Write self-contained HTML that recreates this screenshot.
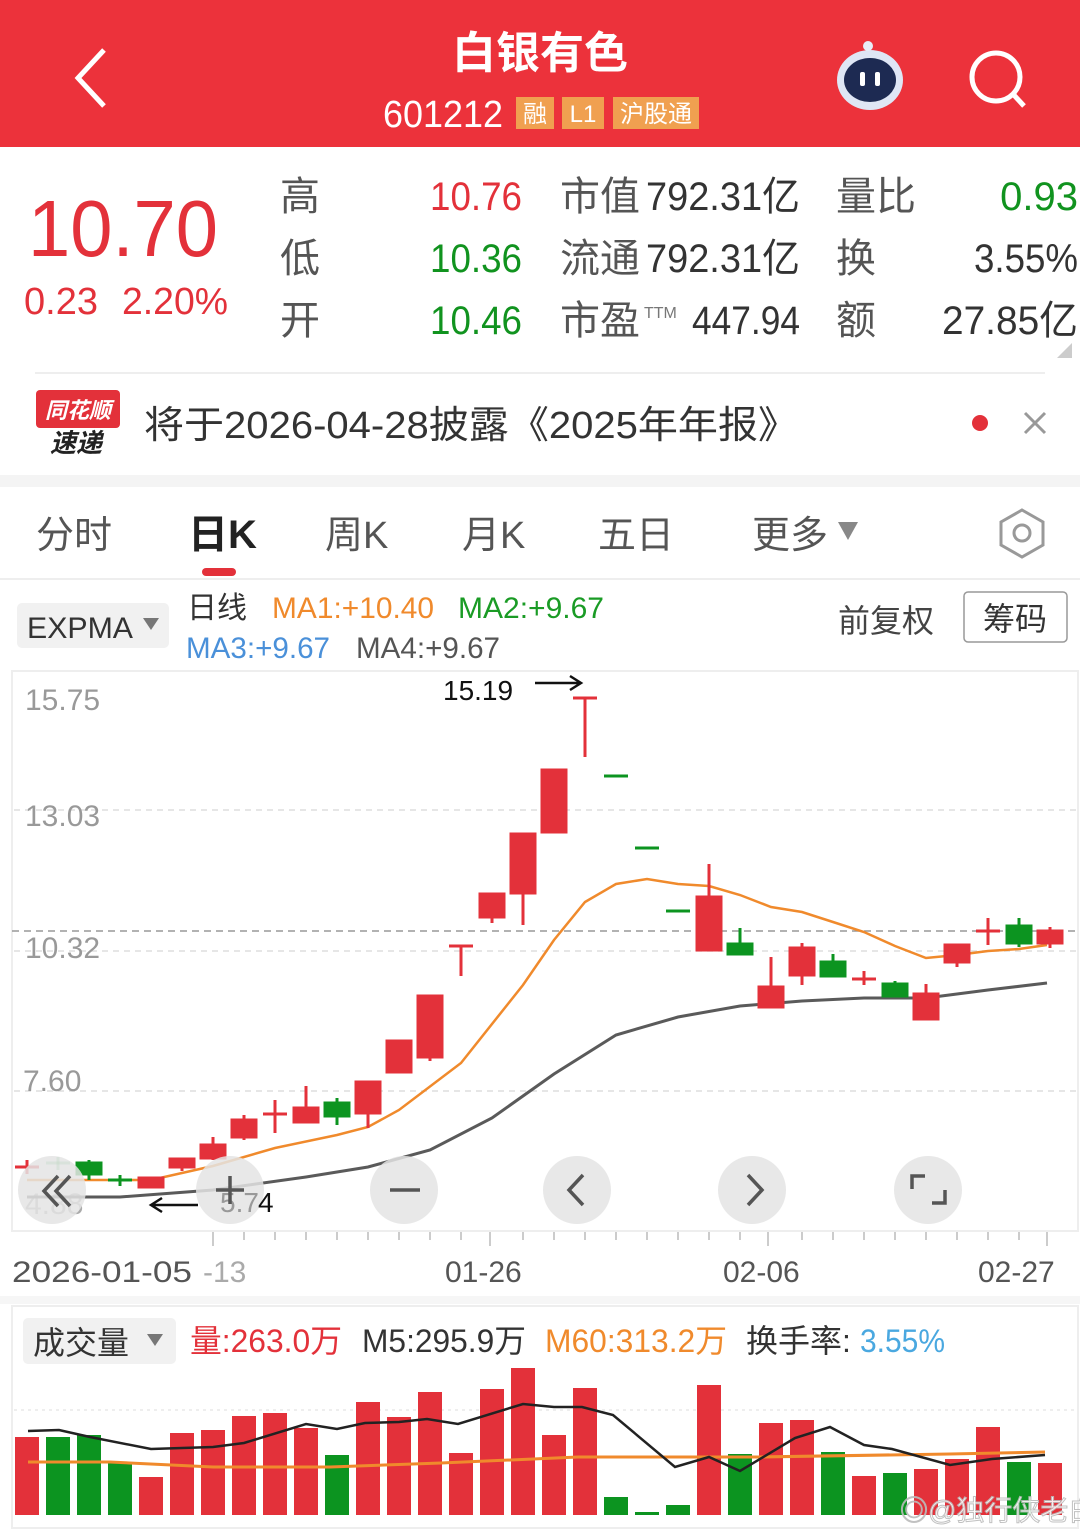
<!DOCTYPE html>
<html><head><meta charset="utf-8"><style>
html,body{margin:0;padding:0;background:#fff}
svg{display:block}
text{font-family:"Liberation Sans","Noto Sans CJK SC",sans-serif}
</style></head><body>
<svg width="1080" height="1536" viewBox="0 0 1080 1536" xmlns="http://www.w3.org/2000/svg">
<!-- header -->
<rect x="0" y="0" width="1080" height="147" fill="#ec323b"/>
<polyline points="104,50 78,78 104,106" fill="none" stroke="#fff" stroke-width="5"/>
<text x="540" y="68" font-size="44" fill="#fff" text-anchor="middle" font-weight="bold">白银有色</text>
<text x="383" y="127" font-size="38" fill="#fff" textLength="120" lengthAdjust="spacingAndGlyphs">601212</text>
<rect x="516" y="97" width="38" height="32" fill="#f0a050"/><text x="535" y="122" font-size="24" fill="#fff" text-anchor="middle">融</text>
<rect x="562" y="97" width="42" height="32" fill="#f0a050"/><text x="583" y="122" font-size="24" fill="#fff" text-anchor="middle">L1</text>
<rect x="613" y="97" width="86" height="32" fill="#f0a050"/><text x="656" y="122" font-size="24" fill="#fff" text-anchor="middle">沪股通</text>
<ellipse cx="870" cy="80" rx="33" ry="30" fill="#dfe6f5"/><ellipse cx="870" cy="80" rx="26" ry="22" fill="#1d2a52"/>
<rect x="860" y="72" width="5" height="14" rx="2" fill="#fff"/><rect x="875" y="72" width="5" height="14" rx="2" fill="#fff"/>
<circle cx="868" cy="46" r="5" fill="#e8eef8"/>
<circle cx="996" cy="77" r="24" fill="none" stroke="#fff" stroke-width="5"/><line x1="1013" y1="94" x2="1024" y2="106" stroke="#fff" stroke-width="5"/>
<!-- quote -->
<text x="28" y="256" font-size="80" fill="#e3313a" textLength="190" lengthAdjust="spacingAndGlyphs">10.70</text>
<text x="24" y="314" font-size="38" fill="#e3313a" textLength="74" lengthAdjust="spacingAndGlyphs">0.23</text>
<text x="122" y="314" font-size="38" fill="#e3313a" textLength="106" lengthAdjust="spacingAndGlyphs">2.20%</text>
<g font-size="40" fill="#555"><text x="280" y="210">高</text><text x="280" y="272">低</text><text x="280" y="334">开</text>
<text x="560" y="210">市值</text><text x="560" y="272">流通</text><text x="560" y="334">市盈</text>
<text x="836" y="210">量比</text><text x="836" y="272">换</text><text x="836" y="334">额</text></g>
<text x="644" y="318" font-size="16" fill="#777">TTM</text>
<g font-size="40"><text x="430" y="210" fill="#e3313a" textLength="92" lengthAdjust="spacingAndGlyphs">10.76</text>
<text x="430" y="272" fill="#11931f" textLength="92" lengthAdjust="spacingAndGlyphs">10.36</text>
<text x="430" y="334" fill="#11931f" textLength="92" lengthAdjust="spacingAndGlyphs">10.46</text>
<text x="646" y="210" fill="#333" textLength="154" lengthAdjust="spacingAndGlyphs">792.31亿</text>
<text x="646" y="272" fill="#333" textLength="154" lengthAdjust="spacingAndGlyphs">792.31亿</text>
<text x="692" y="334" fill="#333" textLength="108" lengthAdjust="spacingAndGlyphs">447.94</text>
<text x="1078" y="210" fill="#11931f" text-anchor="end">0.93</text>
<text x="1078" y="272" fill="#333" text-anchor="end" textLength="104" lengthAdjust="spacingAndGlyphs">3.55%</text>
<text x="1078" y="334" fill="#333" text-anchor="end" textLength="136" lengthAdjust="spacingAndGlyphs">27.85亿</text></g>
<polygon points="1072,343 1072,358 1057,358" fill="#ccc"/>
<line x1="35" y1="373" x2="1045" y2="373" stroke="#eee" stroke-width="2"/>
<!-- notice -->
<rect x="36" y="390" width="84" height="38" rx="4" fill="#e3313a"/><text x="78" y="418" font-size="22" fill="#fff" text-anchor="middle" font-style="italic" font-weight="bold">同花顺</text>
<text x="76" y="452" font-size="26" fill="#222" text-anchor="middle" font-style="italic" font-weight="bold">速递</text>
<text x="144" y="438" font-size="38" fill="#333" textLength="654" lengthAdjust="spacingAndGlyphs">将于2026-04-28披露《2025年年报》</text>
<circle cx="980" cy="423" r="8" fill="#e3313a"/>
<path d="M1025 413 L1045 433 M1045 413 L1025 433" stroke="#999" stroke-width="3"/>
<rect x="0" y="475" width="1080" height="12" fill="#f4f4f4"/>
<!-- tabs -->
<g font-size="38" fill="#555"><text x="36" y="548">分时</text><text x="325" y="548">周K</text><text x="462" y="548">月K</text><text x="598" y="548">五日</text><text x="752" y="548">更多</text></g>
<text x="188" y="548" font-size="40" fill="#222" font-weight="bold">日K</text>
<polygon points="838,522 858,522 848,540" fill="#888"/>
<polygon points="1022,510 1043,522 1043,545 1022,557 1001,545 1001,522" fill="none" stroke="#999" stroke-width="3"/><circle cx="1022" cy="533" r="8" fill="none" stroke="#999" stroke-width="3"/>
<rect x="202" y="568" width="34" height="8" rx="4" fill="#e3313a"/>
<line x1="0" y1="579" x2="1080" y2="579" stroke="#eee" stroke-width="2"/>
<!-- chart header -->
<rect x="17" y="603" width="152" height="45" rx="5" fill="#f1f1f1"/>
<text x="27" y="638" font-size="30" fill="#333" textLength="106" lengthAdjust="spacingAndGlyphs">EXPMA</text>
<polygon points="143,618 159,618 151,630" fill="#777"/>
<text x="187" y="618" font-size="30" fill="#333">日线</text>
<text x="272" y="618" font-size="30" fill="#f08a2c" textLength="162" lengthAdjust="spacingAndGlyphs">MA1:+10.40</text>
<text x="458" y="618" font-size="30" fill="#1a9b25" textLength="146" lengthAdjust="spacingAndGlyphs">MA2:+9.67</text>
<text x="186" y="658" font-size="30" fill="#4a90d9" textLength="144" lengthAdjust="spacingAndGlyphs">MA3:+9.67</text>
<text x="356" y="658" font-size="30" fill="#555" textLength="144" lengthAdjust="spacingAndGlyphs">MA4:+9.67</text>
<text x="838" y="632" font-size="32" fill="#444">前复权</text>
<rect x="964" y="592" width="103" height="50" rx="4" fill="#fff" stroke="#999" stroke-width="1.5"/>
<text x="1015" y="630" font-size="32" fill="#333" text-anchor="middle">筹码</text>
<!-- chart box -->
<rect x="12" y="671" width="1066" height="560" fill="none" stroke="#eee" stroke-width="2"/>
<g stroke="#ddd" stroke-dasharray="6,5" stroke-width="1.5"><line x1="14" y1="810" x2="1076" y2="810"/><line x1="14" y1="951" x2="1076" y2="951"/><line x1="14" y1="1091" x2="1076" y2="1091"/></g>
<line x1="12" y1="931" x2="1078" y2="931" stroke="#999" stroke-dasharray="7,5" stroke-width="1.5"/>
<g font-size="30" fill="#999"><text x="25" y="710">15.75</text><text x="25" y="826">13.03</text><text x="25" y="958">10.32</text><text x="23" y="1091">7.60</text><text x="25" y="1214" fill="#aaa">4.88</text></g>
<!-- MA lines -->
<polyline fill="none" stroke="#5a5a5a" stroke-width="3" points="27,1197 120,1197 213,1190 306,1177 368,1167 430,1150 492,1118 554,1074 616,1035 678,1017 740,1006 802,1001 864,998 926,998 988,990 1047,983"/>
<polyline fill="none" stroke="#f08a2c" stroke-width="2.5" points="27,1180 120,1180 151,1180 213,1166 275,1148 337,1135 368,1127 399,1110 461,1063 523,985 554,940 585,902 616,884 647,879 678,884 709,886 740,895 771,907 802,912 833,922 864,932 895,946 926,958 957,955 988,951 1019,949 1047,945"/>
<!-- candles -->
<g stroke-width="3">
<g stroke="#e3313a" fill="#e3313a">
<line x1="15" y1="1167" x2="39" y2="1167"/><line x1="27" y1="1160" x2="27" y2="1174"/>
<rect x="139" y="1178" width="24" height="9"/>
<rect x="170" y="1159" width="24" height="8"/><line x1="182" y1="1159" x2="182" y2="1171"/>
<rect x="201" y="1145" width="24" height="13"/><line x1="213" y1="1137" x2="213" y2="1160"/>
<rect x="232" y="1120" width="24" height="17"/><line x1="244" y1="1115" x2="244" y2="1140"/>
<line x1="263" y1="1114" x2="287" y2="1114"/><line x1="275" y1="1100" x2="275" y2="1133"/>
<rect x="294" y="1108" width="24" height="14"/><line x1="306" y1="1086" x2="306" y2="1123"/>
<rect x="356" y="1082" width="24" height="31"/><line x1="368" y1="1113" x2="368" y2="1128"/>
<rect x="387" y="1041" width="24" height="31"/>
<rect x="418" y="996" width="24" height="61"/><line x1="430" y1="1057" x2="430" y2="1061"/>
<line x1="449" y1="946" x2="473" y2="946"/><line x1="461" y1="946" x2="461" y2="976"/>
<rect x="480" y="894" width="24" height="23"/><line x1="492" y1="917" x2="492" y2="923"/>
<rect x="511" y="834" width="24" height="59"/><line x1="523" y1="893" x2="523" y2="925"/>
<rect x="542" y="770" width="24" height="62"/>
<line x1="573" y1="698" x2="597" y2="698"/><line x1="585" y1="698" x2="585" y2="757"/>
<rect x="697" y="897" width="24" height="53"/><line x1="709" y1="864" x2="709" y2="897"/>
<rect x="759" y="987" width="24" height="20"/><line x1="771" y1="957" x2="771" y2="987"/>
<rect x="790" y="948" width="24" height="27"/><line x1="802" y1="943" x2="802" y2="985"/>
<line x1="852" y1="979" x2="876" y2="979"/><line x1="864" y1="971" x2="864" y2="985"/>
<rect x="914" y="994" width="24" height="25"/><line x1="926" y1="984" x2="926" y2="994"/>
<rect x="945" y="945" width="24" height="17"/><line x1="957" y1="962" x2="957" y2="967"/>
<line x1="976" y1="931" x2="1000" y2="931"/><line x1="988" y1="918" x2="988" y2="945"/>
<rect x="1038" y="931" width="24" height="12"/><line x1="1050" y1="927" x2="1050" y2="948"/>
</g>
<g stroke="#0c9420" fill="#0c9420">
<line x1="46" y1="1163" x2="70" y2="1163" opacity="0.4"/><line x1="58" y1="1157" x2="58" y2="1170" opacity="0.4"/>
<rect x="77" y="1163" width="24" height="11"/><line x1="89" y1="1160" x2="89" y2="1180"/>
<line x1="108" y1="1180" x2="132" y2="1180"/><line x1="120" y1="1175" x2="120" y2="1186"/>
<rect x="325" y="1103" width="24" height="13"/><line x1="337" y1="1098" x2="337" y2="1125"/>
<line x1="604" y1="776" x2="628" y2="776"/>
<line x1="635" y1="848" x2="659" y2="848"/>
<line x1="666" y1="911" x2="690" y2="911"/>
<rect x="728" y="944" width="24" height="10"/><line x1="740" y1="928" x2="740" y2="944"/>
<rect x="821" y="962" width="24" height="14"/><line x1="833" y1="954" x2="833" y2="962"/>
<rect x="883" y="984" width="24" height="12"/><line x1="895" y1="981" x2="895" y2="984"/>
<rect x="1007" y="926" width="24" height="17"/><line x1="1019" y1="918" x2="1019" y2="947"/>
</g></g>
<!-- annotations -->
<text x="443" y="700" font-size="28" fill="#111">15.19</text>
<path d="M535 683 L580 683 M570 676 L581 683 L570 690" fill="none" stroke="#111" stroke-width="2.5"/>
<path d="M198 1205 L152 1205 M162 1198 L151 1205 L162 1212" fill="none" stroke="#111" stroke-width="2.5"/>
<!-- nav circles -->
<g fill="#e4e4e4" opacity="0.85"><circle cx="52" cy="1190" r="34"/><circle cx="230" cy="1190" r="34"/><circle cx="404" cy="1190" r="34"/><circle cx="577" cy="1190" r="34"/><circle cx="752" cy="1190" r="34"/><circle cx="928" cy="1190" r="34"/></g>
<text x="220" y="1212" font-size="28" fill="#999">5.7</text><text x="258" y="1212" font-size="28" fill="#111">4</text>
<g fill="none" stroke="#555" stroke-width="3.5">
<path d="M58 1176 L44 1191 L58 1206 M70 1176 L56 1191 L70 1206"/>
<path d="M216 1190 L244 1190 M230 1176 L230 1204"/>
<path d="M390 1190 L420 1190"/>
<path d="M583 1175 L569 1190 L583 1205"/>
<path d="M748 1175 L762 1190 L748 1205"/>
<path d="M912 1189 L912 1176 L925 1176 M945 1190 L945 1203 L932 1203"/>
</g>
<!-- date axis -->
<g stroke="#bbb" stroke-width="1.5">
<line x1="213" y1="1232" x2="213" y2="1246"/><line x1="490" y1="1232" x2="490" y2="1246"/><line x1="768" y1="1232" x2="768" y2="1246"/><line x1="1047" y1="1232" x2="1047" y2="1246"/>
<line x1="244" y1="1232" x2="244" y2="1240"/><line x1="275" y1="1232" x2="275" y2="1240"/><line x1="306" y1="1232" x2="306" y2="1240"/><line x1="337" y1="1232" x2="337" y2="1240"/><line x1="368" y1="1232" x2="368" y2="1240"/><line x1="399" y1="1232" x2="399" y2="1240"/><line x1="430" y1="1232" x2="430" y2="1240"/><line x1="461" y1="1232" x2="461" y2="1240"/><line x1="523" y1="1232" x2="523" y2="1240"/><line x1="554" y1="1232" x2="554" y2="1240"/><line x1="585" y1="1232" x2="585" y2="1240"/><line x1="616" y1="1232" x2="616" y2="1240"/><line x1="647" y1="1232" x2="647" y2="1240"/><line x1="678" y1="1232" x2="678" y2="1240"/><line x1="709" y1="1232" x2="709" y2="1240"/><line x1="740" y1="1232" x2="740" y2="1240"/><line x1="802" y1="1232" x2="802" y2="1240"/><line x1="833" y1="1232" x2="833" y2="1240"/><line x1="864" y1="1232" x2="864" y2="1240"/><line x1="895" y1="1232" x2="895" y2="1240"/><line x1="926" y1="1232" x2="926" y2="1240"/><line x1="957" y1="1232" x2="957" y2="1240"/><line x1="988" y1="1232" x2="988" y2="1240"/><line x1="1019" y1="1232" x2="1019" y2="1240"/>
</g>
<g font-size="30" fill="#555"><text x="12" y="1282" textLength="180" lengthAdjust="spacingAndGlyphs">2026-01-05</text><text x="203" y="1282" fill="#aaa">-13</text><text x="445" y="1282">01-26</text><text x="723" y="1282">02-06</text><text x="978" y="1282">02-27</text></g>
<rect x="0" y="1296" width="1080" height="8" fill="#f6f6f6"/>
<!-- volume -->
<rect x="12" y="1306" width="1066" height="222" fill="none" stroke="#eee" stroke-width="2"/>
<rect x="23" y="1318" width="153" height="46" rx="5" fill="#f1f1f1"/>
<text x="33" y="1354" font-size="32" fill="#333">成交量</text><polygon points="147,1334 163,1334 155,1346" fill="#777"/>
<text x="190" y="1352" font-size="32" fill="#e3313a" textLength="152" lengthAdjust="spacingAndGlyphs">量:263.0万</text>
<text x="362" y="1352" font-size="32" fill="#333" textLength="164" lengthAdjust="spacingAndGlyphs">M5:295.9万</text>
<text x="545" y="1352" font-size="32" fill="#f08a2c" textLength="182" lengthAdjust="spacingAndGlyphs">M60:313.2万</text>
<text x="746" y="1352" font-size="32" fill="#333">换手率:</text>
<text x="860" y="1352" font-size="32" fill="#4aa8e0" textLength="85" lengthAdjust="spacingAndGlyphs">3.55%</text>
<line x1="14" y1="1410" x2="1076" y2="1410" stroke="#ddd" stroke-dasharray="3,4"/>
<g fill="#e3313a">
<rect x="15" y="1437" width="24" height="78"/><rect x="139" y="1477" width="24" height="38"/><rect x="170" y="1433" width="24" height="82"/><rect x="201" y="1430" width="24" height="85"/><rect x="232" y="1416" width="24" height="99"/><rect x="263" y="1413" width="24" height="102"/><rect x="294" y="1428" width="24" height="87"/><rect x="356" y="1402" width="24" height="113"/><rect x="387" y="1417" width="24" height="98"/><rect x="418" y="1392" width="24" height="123"/><rect x="449" y="1453" width="24" height="62"/><rect x="480" y="1389" width="24" height="126"/><rect x="511" y="1368" width="24" height="147"/><rect x="542" y="1435" width="24" height="80"/><rect x="573" y="1388" width="24" height="127"/><rect x="697" y="1385" width="24" height="130"/><rect x="759" y="1423" width="24" height="92"/><rect x="790" y="1420" width="24" height="95"/><rect x="852" y="1476" width="24" height="39"/><rect x="914" y="1469" width="24" height="46"/><rect x="945" y="1459" width="24" height="56"/><rect x="976" y="1427" width="24" height="88"/><rect x="1038" y="1463" width="24" height="52"/>
</g>
<g fill="#0c9420">
<rect x="46" y="1437" width="24" height="78"/><rect x="77" y="1435" width="24" height="80"/><rect x="108" y="1463" width="24" height="52"/><rect x="325" y="1455" width="24" height="60"/><rect x="604" y="1497" width="24" height="18"/><rect x="635" y="1512" width="24" height="3"/><rect x="666" y="1505" width="24" height="10"/><rect x="728" y="1454" width="24" height="61"/><rect x="821" y="1452" width="24" height="63"/><rect x="883" y="1473" width="24" height="42"/><rect x="1007" y="1462" width="24" height="53"/>
</g>
<polyline fill="none" stroke="#f08a2c" stroke-width="3" points="28,1462 110,1462 213,1467 330,1467 441,1463 578,1457 758,1457 950,1454 1045,1452"/>
<polyline fill="none" stroke="#222" stroke-width="2.5" points="28,1431 59,1430 90,1437 151,1449 213,1447 244,1443 306,1424 337,1429 365,1423 399,1422 427,1419 458,1424 523,1404 554,1407 582,1407 613,1415 675,1467 709,1457 740,1471 795,1438 830,1427 864,1445 892,1449 950,1465 992,1459 1045,1455"/>
<text x="900" y="1520" font-size="28" fill="#fff" stroke="#bbb" stroke-width="1" opacity="0.9">◎@独行侠老白</text>
</svg>
</body></html>
